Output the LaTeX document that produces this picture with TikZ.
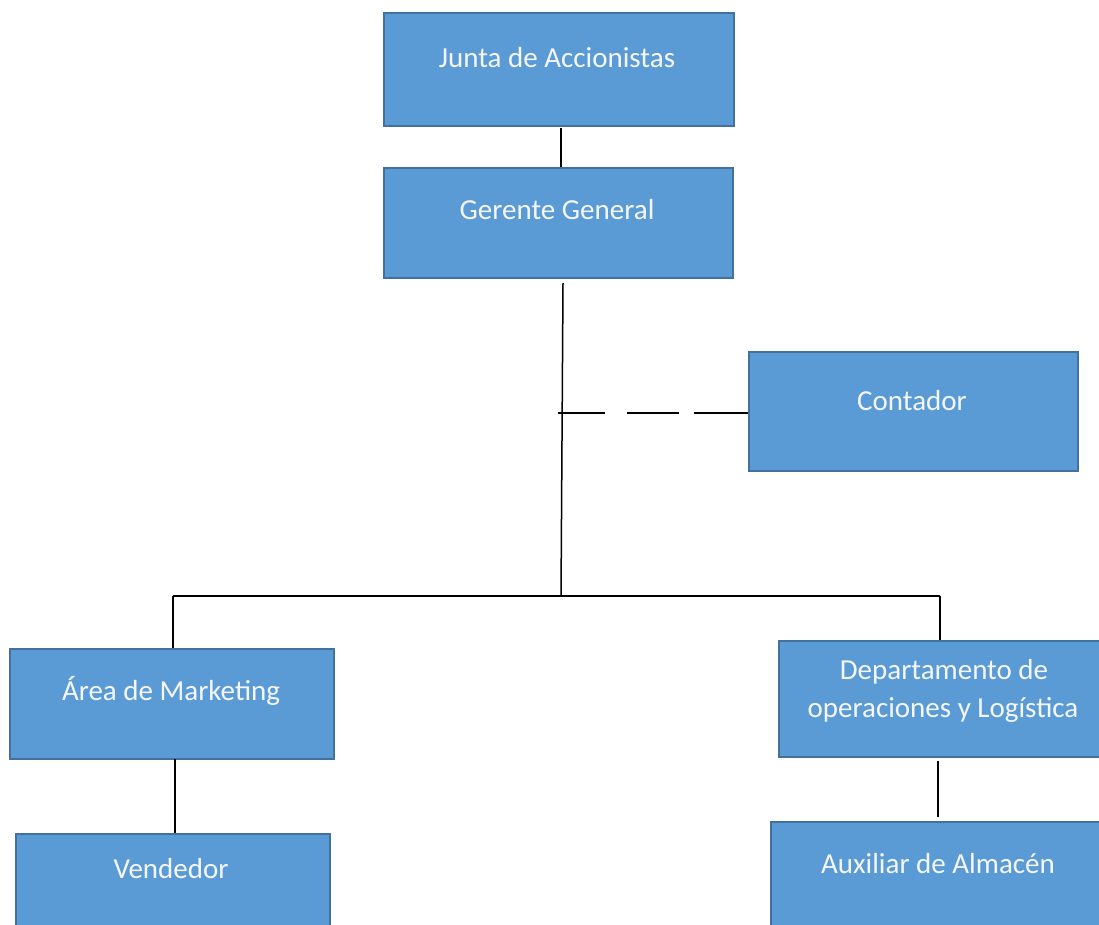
\documentclass[tikz,border=0pt]{standalone}
\usepackage{fontspec}
\setmainfont{Carlito}
\definecolor{boxfill}{HTML}{5B9BD5}
\definecolor{boxline}{HTML}{41719C}
\definecolor{txt}{HTML}{F4F6FA}
\begin{document}
\begin{tikzpicture}[x=1pt,y=-1pt,
  box/.style={draw=boxline, fill=boxfill, line width=1.2pt, inner sep=0pt, rectangle},
  lbl/.style={text=txt, anchor=base, inner sep=0pt, font=\fontsize{29}{38}\selectfont},
  conn/.style={draw=black, line width=1.5pt}]
\clip (0,0) rectangle (1099,924);
\fill[white] (0,0) rectangle (1099,924);
% boxes
\node[box, minimum width=350pt, minimum height=113pt] (junta) at (559,69.5) {};
\node[box, minimum width=349pt, minimum height=110pt] (gerente) at (558.5,223) {};
\node[box, minimum width=329pt, minimum height=119pt] (contador) at (913.5,411.5) {};
\node[box, minimum width=324pt, minimum height=110pt] (marketing) at (172,704) {};
\node[box, minimum width=314pt, minimum height=120pt] (vendedor) at (173,894) {};
\node[box, minimum width=331pt, minimum height=116pt] (depto) at (944.5,699) {};
\node[box, minimum width=339pt, minimum height=130pt] (aux) at (940.5,887) {};
% labels
\node[lbl] (tjunta) at (557,67) {Junta de Accionistas};
\node[lbl] (tgerente) at (557,219) {Gerente General};
\node[lbl] (tcontador) at (912,410) {Contador};
\node[lbl] (tmarketing) at (171,700) {Área de Marketing};
\node[lbl] (tvendedor) at (171,878) {Vendedor};
\node[lbl] (tdepto1) at (944,679) {Departamento de};
\node[lbl] (tdepto2) at (943,717) {operaciones y Logística};
\node[lbl] (taux) at (938,873) {Auxiliar de Almacén};
% connector points
\coordinate (g0) at (563,283);
\coordinate (bus) at (561,596);
\coordinate (busL) at (173,596);
\coordinate (busR) at (940,596);
\coordinate (dash0) at (558,413);
\coordinate (j0) at (561,128);
\coordinate (m0) at (175,759);
\coordinate (d0) at (938,761);
\coordinate (d1) at (938,817);
% connectors
\draw[conn] (j0) -- (gerente.north -| j0);
\draw[conn] (g0) -- (bus);
\draw[conn] (busL) -- (busR);
\draw[conn] (busL) -- (marketing.north -| busL);
\draw[conn] (busR) -- (depto.north -| busR);
\draw[conn] (m0) -- (vendedor.north -| m0);
\draw[conn] (d0) -- (d1);
\draw[conn, dash pattern=on 47pt off 22pt on 52pt off 15pt on 100pt off 0pt] (dash0) -- (contador.west |- dash0);
\end{tikzpicture}
\end{document}
